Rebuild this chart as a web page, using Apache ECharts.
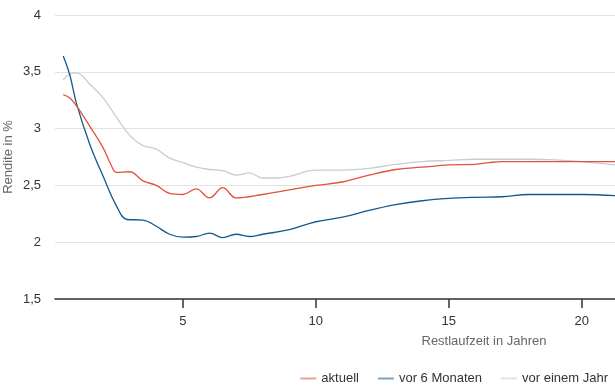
<!DOCTYPE html>
<html>
<head>
<meta charset="utf-8">
<script src="https://cdn.jsdelivr.net/npm/echarts@6/dist/echarts.min.js"></script>
<style>
html,body{margin:0;padding:0;background:#fff;}
#c{width:615px;height:388px;}
</style>
</head>
<body>
<div id="c"></div>
<script>
var seriesNames = ['aktuell', 'vor 6 Monaten', 'vor einem Jahr'];
var xTicks = [5, 10, 15, 20];
var yTicks = [1.5, 2, 2.5, 3, 3.5, 4];

var aktuell = [
  [0.5,3.30],[0.75,3.27],[1,3.20],[1.5,3.02],[2,2.83],[2.3,2.68],[2.5,2.615],[3,2.62],
  [3.5,2.54],[4,2.50],[4.5,2.43],[5,2.42],[5.5,2.47],[6,2.39],[6.5,2.48],[7,2.39],
  [8,2.42],[9,2.46],[10,2.50],[11,2.53],[12,2.59],[13,2.64],[14,2.66],[15,2.68],
  [16,2.685],[16.5,2.70],[17,2.71],[18,2.71],[19,2.71],[20,2.71],[21.25,2.71]
];
var vor6Monaten = [
  [0.5,3.64],[0.75,3.47],[1,3.22],[1.5,2.86],[2,2.58],[2.5,2.32],[2.9,2.20],[3.5,2.195],
  [4,2.14],[4.5,2.07],[5,2.045],[5.5,2.05],[6,2.08],[6.5,2.04],[7,2.07],[7.5,2.05],
  [8,2.07],[9,2.11],[10,2.18],[11,2.22],[12,2.28],[13,2.33],[14,2.365],[15,2.385],
  [16,2.395],[17,2.40],[18,2.42],[19,2.42],[20,2.42],[21.25,2.41]
];
var vorEinemJahr = [
  [0.5,3.43],[0.75,3.48],[1,3.49],[1.5,3.39],[2,3.27],[2.5,3.10],[3,2.94],[3.5,2.85],
  [4,2.82],[4.5,2.74],[5,2.70],[5.5,2.66],[6,2.64],[6.5,2.63],[7,2.59],[7.5,2.61],
  [8,2.565],[8.5,2.565],[9,2.58],[10,2.635],[11,2.635],[12,2.65],[13,2.685],[14,2.71],
  [15,2.72],[16,2.73],[17,2.73],[18,2.73],[19,2.725],[20,2.71],[21.25,2.68]
];

var colors = ['#e0533c', '#14598a', '#c8cdd2'];
var font = '"Liberation Sans", Arial, sans-serif';

function fmt(v){ return String(v).replace('.', ','); }

var chart = echarts.init(document.getElementById('c'), null, {renderer:'canvas'});
var dataSets = [aktuell, vor6Monaten, vorEinemJahr];
chart.setOption({
  animation: false,
  textStyle: {fontFamily: font},
  color: colors,
  grid: {left: 55, right: 0, top: 15, bottom: 89, containLabel: false, outerBoundsMode: 'none'},
  legend: {
    top: 367, right: 2,
    icon: 'rect', itemWidth: 16, itemHeight: 2, itemGap: 19,
    textStyle: {fontSize: 13, color: '#333', fontFamily: font},
    itemStyle: {opacity: 0.55},
    data: seriesNames
  },
  xAxis: {
    type: 'value', min: 0.19, max: 21.25,
    name: 'Restlaufzeit in Jahren', nameLocation: 'middle', nameGap: 36, nameMoveOverlap: false,
    nameTextStyle: {fontSize: 13, color: '#666', padding: [0, 0, 0, 298], fontFamily: font},
    axisLine: {show: true, lineStyle: {color: '#333', width: 1.5}},
    axisTick: {show: true, length: 9, customValues: xTicks, lineStyle: {color: '#333', width: 1.5}},
    axisLabel: {customValues: xTicks, margin: 16, fontSize: 13, color: '#333', fontFamily: font},
    splitLine: {show: false}
  },
  yAxis: {
    type: 'value', min: 1.5, max: 4, interval: 0.5,
    name: 'Rendite in %', nameLocation: 'middle', nameGap: 40, nameRotate: 90, nameMoveOverlap: false,
    nameTextStyle: {fontSize: 13, color: '#666', fontFamily: font},
    axisLine: {show: false}, axisTick: {show: false},
    axisLabel: {margin: 14, fontSize: 13, color: '#333', fontFamily: font, formatter: fmt},
    splitLine: {lineStyle: {color: '#e2e2e2', width: 1}}
  },
  series: seriesNames.map(function(n, i){
    return {
      name: n, type: 'line', data: dataSets[i], smooth: 0.4, symbol: 'none',
      lineStyle: {width: 1.3, color: colors[i]}, z: 3 - i
    };
  })
});
</script>
</body>
</html>
